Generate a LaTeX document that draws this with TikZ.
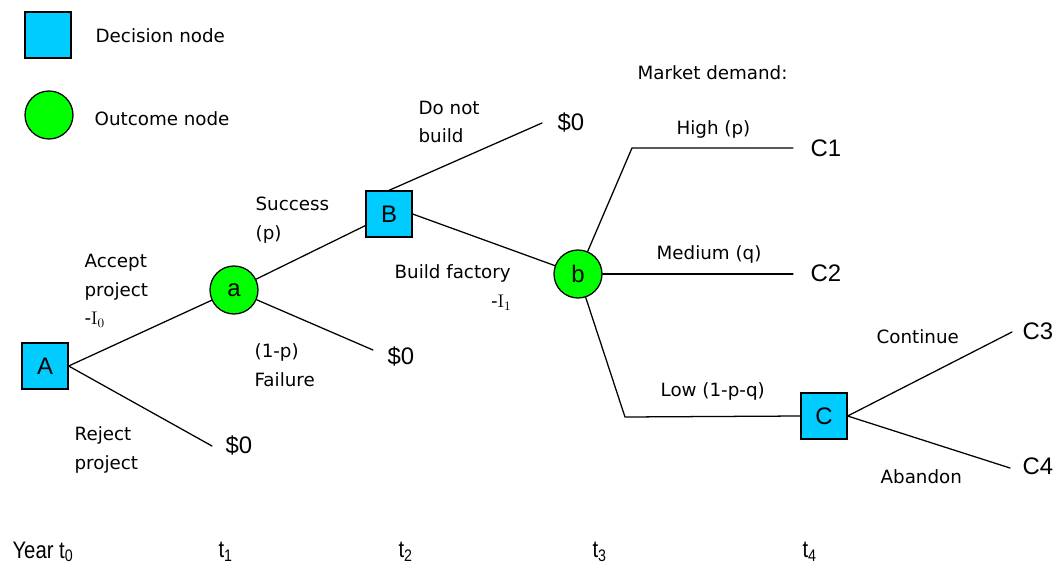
\documentclass[tikz,border=0pt]{standalone}
\usepackage{fontspec}
\newfontfamily\lblfont{DejaVu Sans}
\newfontfamily\payfont{Liberation Sans}
\usepackage{xcolor}
\definecolor{decblue}{RGB}{0,204,255}
\definecolor{outgreen}{RGB}{0,255,0}

\begin{document}
\begin{tikzpicture}[x=0.025cm,y=-0.025cm,line width=0.9pt,line cap=round,
  decision/.style={draw,fill=decblue,minimum size=1.15cm,inner sep=0pt,font=\payfont\fontsize{17}{20}\selectfont},
  outcome/.style={circle,draw,fill=outgreen,minimum size=1.2cm,inner sep=0pt,font=\payfont\fontsize{17}{20}\selectfont},
  lbl/.style={font=\lblfont\fontsize{13}{20.5}\selectfont,align=left,inner sep=0pt,anchor=west},
  pay/.style={font=\payfont\fontsize{17}{20}\selectfont,inner sep=0pt,anchor=west},
  yr/.style={font=\payfont\fontsize{17}{20}\selectfont,inner sep=0pt,anchor=west,xscale=0.85}]
\useasboundingbox (0,0) rectangle (1055,566);
% legend
\node[decision] (legdec) at (48,35) {};
\node[outcome] (legout) at (49,115) {};
\node[lbl] (legdectxt) at (95,36) {Decision node};
\node[lbl] (legouttxt) at (94,119) {Outcome node};
% tree nodes
\node[decision] (A) at (45,366) {A};
\node[outcome] (a) at (234,290) {a};
\node[decision] (B) at (389,214) {B};
\node[outcome] (b) at (578,274) {b};
\node[decision] (C) at (824,416) {C};
\coordinate (rejEnd) at (212,446);
\coordinate (failEnd) at (373,350);
\coordinate (dnbEnd) at (542,123);
\coordinate (hiCorner) at (632,148);
\coordinate (hiEnd) at (793,148);
\coordinate (medEnd) at (793,274);
\coordinate (loCorner) at (625,417);
\coordinate (c3End) at (1012,332);
\coordinate (c4End) at (1010,468);
\draw (A.east) -- (a);
\draw (A.east) -- (rejEnd);
\draw (a) -- (B);
\draw (a) -- (failEnd);
\draw (B.north) -- (dnbEnd);
\draw (B.east) -- (b);
\draw (b) -- (hiCorner) -- (hiEnd);
\draw (b) -- (medEnd);
\draw (b) -- (loCorner) -- (C.west);
\draw (C.east) -- (c3End);
\draw (C.east) -- (c4End);
% payoffs
\node[pay] (payRej) at (225,445) {\$0};
\node[pay] (payFail) at (387,356) {\$0};
\node[pay] (payDnb) at (557,122) {\$0};
\node[pay] (payC1) at (810,148) {C1};
\node[pay] (payC2) at (810,273) {C2};
\node[pay] (payC3) at (1022,331) {C3};
\node[pay] (payC4) at (1022,466) {C4};
% branch labels
\node[lbl] (accept) at (84,291) {Accept\\project\\-{\rmfamily I}\textsubscript{\rmfamily 0}};
\node[lbl] (reject) at (74,450) {Reject\\project};
\node[lbl] (success) at (255,220) {Success\\(p)};
\node[lbl] (failure) at (254,365) {(1-p)\\Failure};
\node[lbl] (dnb) at (418,122) {Do not\\build};
\node[lbl] (build) at (394,273) {Build factory};
\node[lbl,anchor=east] (invest) at (512,303) {-{\rmfamily I}\textsubscript{\rmfamily 1}};
\node[lbl] (market) at (637,73) {Market demand:};
\node[lbl] (high) at (676,129) {High (p)};
\node[lbl] (medium) at (656,254) {Medium (q)};
\node[lbl] (low) at (660,391) {Low (1-p-q)};
\node[lbl] (cont) at (876,337) {Continue};
\node[lbl] (aband) at (880,477) {Abandon};
% time axis
\node[yr] (t0) at (12,552) {Year t\textsubscript{0}};
\node[yr] (t1) at (218,552) {t\textsubscript{1}};
\node[yr] (t2) at (398,552) {t\textsubscript{2}};
\node[yr] (t3) at (592,552) {t\textsubscript{3}};
\node[yr] (t4) at (802,552) {t\textsubscript{4}};
\end{tikzpicture}
\end{document}
